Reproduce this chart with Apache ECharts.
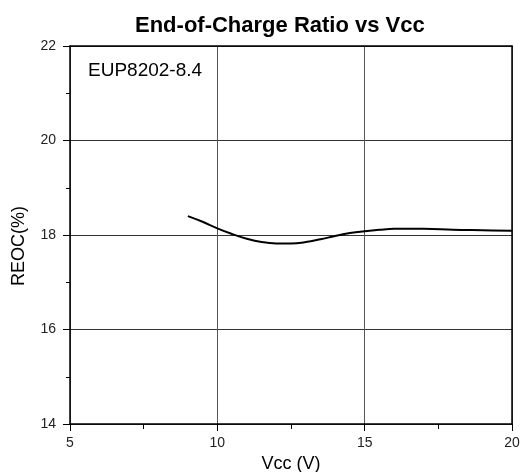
<!DOCTYPE html>
<html>
<head>
<meta charset="utf-8">
<script src="https://cdn.jsdelivr.net/npm/echarts@6/dist/echarts.min.js"></script>
<style>
  html, body { margin: 0; padding: 0; background: #fff; }
  #main { width: 522px; height: 472px; }
</style>
</head>
<body>
<div id="main"></div>
<script>
// data
var vcc = [9, 9.5, 10, 10.5, 11, 11.5, 12, 12.5, 13, 13.5, 14, 14.5, 15, 15.5, 16, 16.5, 17, 18, 19, 20];
var reoc = [18.40, 18.28, 18.14, 18.02, 17.92, 17.85, 17.82, 17.82, 17.85, 17.91, 17.98, 18.04, 18.08, 18.11, 18.13, 18.13, 18.13, 18.11, 18.10, 18.09];
var xTicks = [5, 10, 15, 20];
var yTicks = [14, 16, 18, 20, 22];
var chartTitle = 'End-of-Charge Ratio vs Vcc';
var partLabel = 'EUP8202-8.4';

var font = 'Liberation Sans, Arial, sans-serif';

var chart = echarts.init(document.getElementById('main'));

var lineData = vcc.map(function (v, i) { return [v, reoc[i]]; });

chart.setOption({
  backgroundColor: '#fff',
  animation: false,
  title: {
    text: chartTitle,
    left: 130,
    top: 10,
    textStyle: { fontFamily: font, fontSize: 22, fontWeight: 'bold', color: '#000' }
  },
  grid: { left: 70, right: 10, top: 46, bottom: 48, containLabel: false, outerBoundsMode: 'none' },
  graphic: [{
    type: 'text',
    left: 88,
    top: 61,
    style: { text: partLabel, font: '19px ' + font, fill: '#000' }
  }],
  xAxis: [{
    type: 'value',
    min: xTicks[0],
    max: xTicks[xTicks.length - 1],
    interval: 5,
    name: 'Vcc (V)',
    nameLocation: 'middle',
    nameGap: 26,
    nameTextStyle: { fontFamily: font, fontSize: 18, color: '#000' },
    axisLine: { show: true, lineStyle: { color: '#000', width: 1.5 } },
    axisTick: { show: true, inside: false, length: 7, lineStyle: { color: '#000' } },
    minorTick: { show: true, splitNumber: 2, length: 5, lineStyle: { color: '#000' } },
    axisLabel: { margin: 12, fontFamily: font, fontSize: 14, color: '#222' },
    splitLine: { show: true, lineStyle: { color: '#555', width: 1 } }
  }, {
    type: 'value',
    position: 'top',
    min: xTicks[0],
    max: xTicks[xTicks.length - 1],
    interval: 5,
    axisLine: { show: true, lineStyle: { color: '#000', width: 1.5 } },
    axisTick: { show: false },
    axisLabel: { show: false },
    splitLine: { show: false }
  }],
  yAxis: [{
    type: 'value',
    min: yTicks[0],
    max: yTicks[yTicks.length - 1],
    interval: 2,
    name: 'REOC(%)',
    nameLocation: 'middle',
    nameGap: 42,
    nameTextStyle: { fontFamily: font, fontSize: 18, color: '#000', padding: [0, 22, 0, 0] },
    axisLine: { show: true, lineStyle: { color: '#000', width: 1.5 } },
    axisTick: { show: true, inside: false, length: 7, lineStyle: { color: '#000' } },
    minorTick: { show: true, splitNumber: 2, length: 4, lineStyle: { color: '#000' } },
    axisLabel: { margin: 14, fontFamily: font, fontSize: 14, color: '#222' },
    splitLine: { show: true, lineStyle: { color: '#333', width: 1 } }
  }, {
    type: 'value',
    position: 'right',
    min: yTicks[0],
    max: yTicks[yTicks.length - 1],
    interval: 2,
    axisLine: { show: true, lineStyle: { color: '#000', width: 1.5 } },
    axisTick: { show: false },
    axisLabel: { show: false },
    splitLine: { show: false }
  }],
  series: [{
    type: 'line',
    data: lineData,
    smooth: 0.4,
    showSymbol: false,
    lineStyle: { color: '#000', width: 2 }
  }]
});
</script>
</body>
</html>
